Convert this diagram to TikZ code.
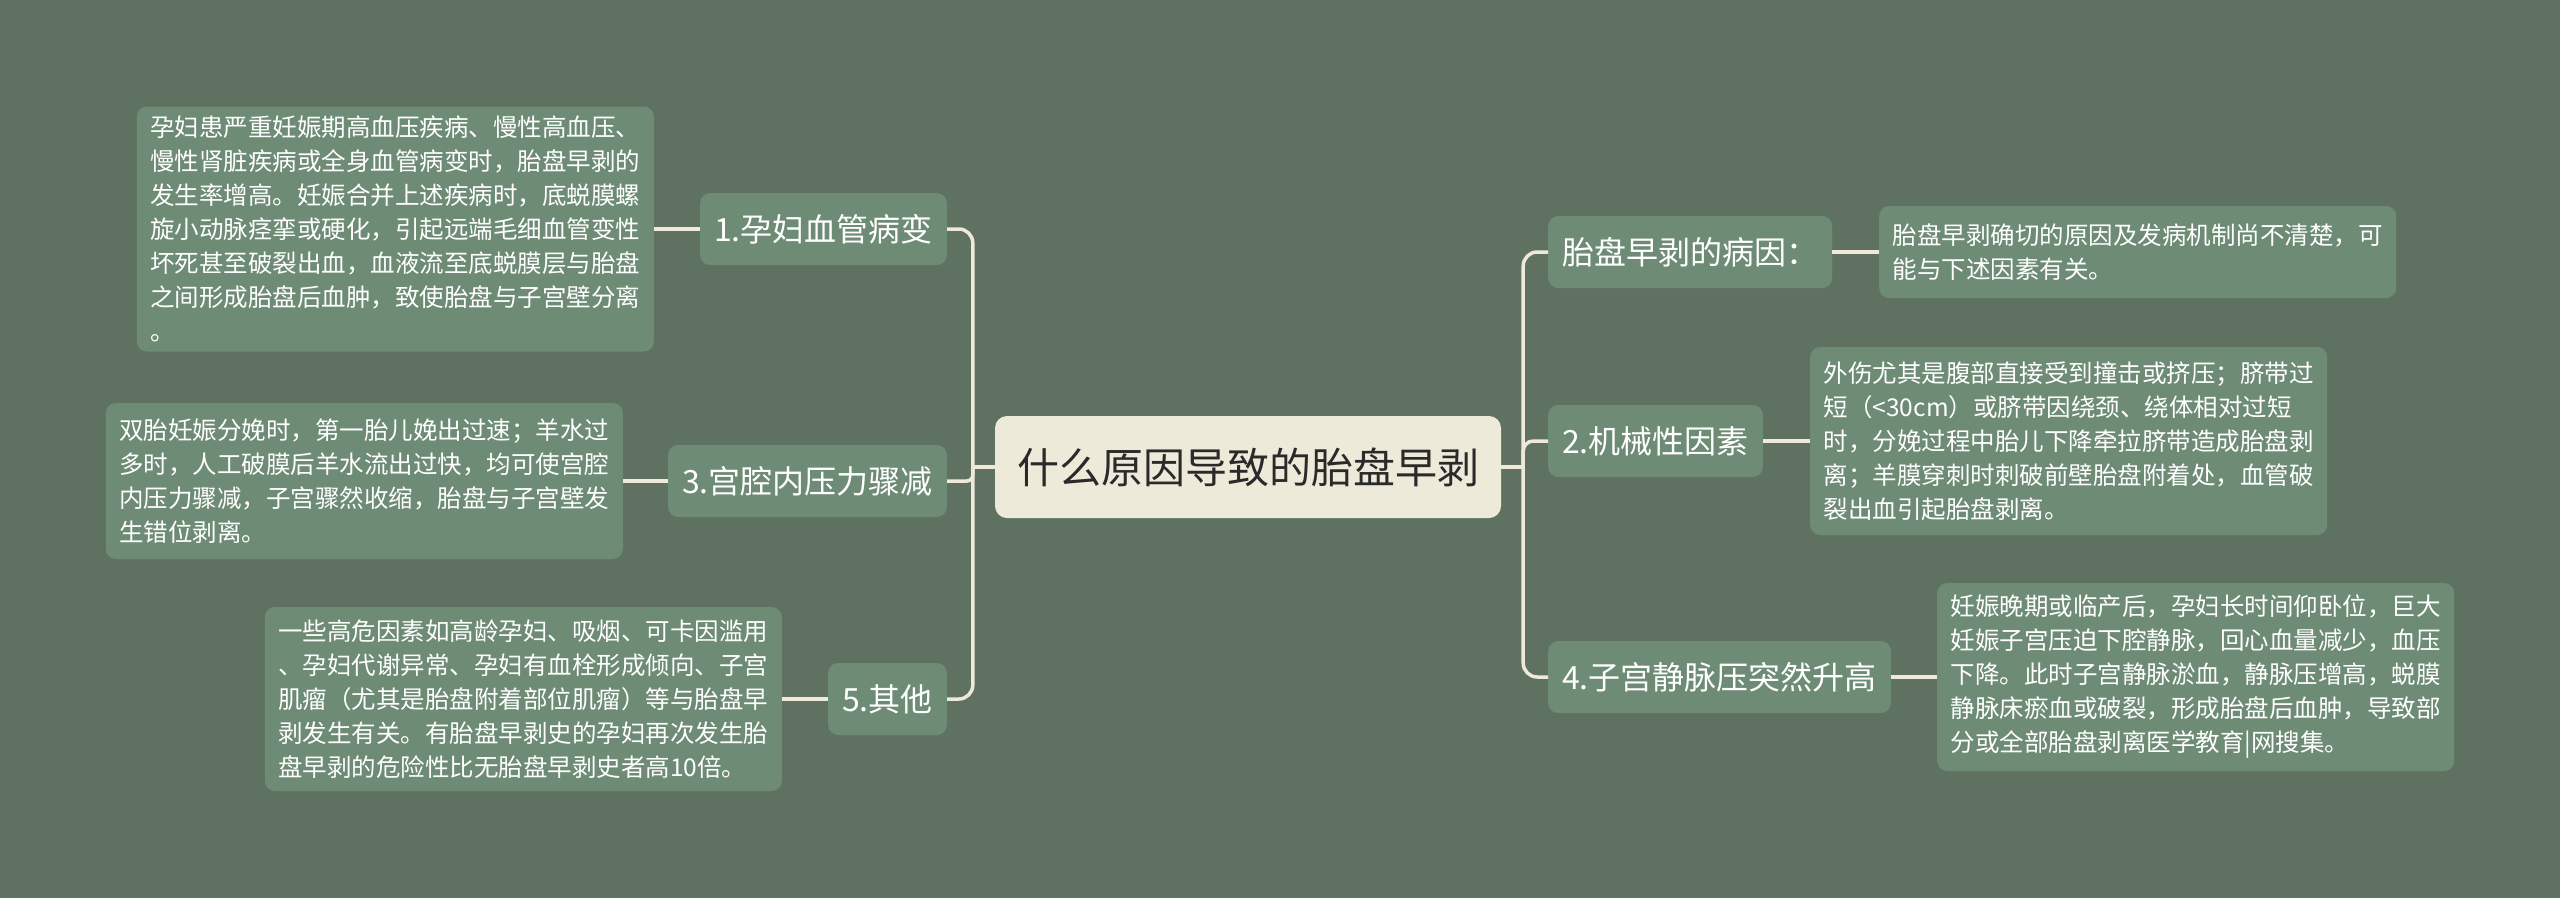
\documentclass[tikz,border=0pt]{standalone}
\usepackage{fontspec}
\setmainfont{Noto Sans CJK SC}
\usetikzlibrary{calc}
\definecolor{bg}{HTML}{5F7262}
\definecolor{boxfill}{HTML}{6E8B75}
\definecolor{rootfill}{HTML}{EEEAD9}
\definecolor{linecol}{HTML}{EEE9D8}
\definecolor{roottext}{HTML}{2A2A2A}
\tikzset{
  detail/.style={fill=boxfill, rounded corners=10pt, text=white, font=\fontsize{24.5}{34}\selectfont, align=left, text width=490pt, inner xsep=13.5pt, inner ysep=0pt},
  branch/.style={fill=boxfill, rounded corners=10pt, text=white, font=\fontsize{32}{38}\selectfont, inner xsep=14pt, inner ysep=0pt, minimum height=72pt},
  rootbox/.style={fill=rootfill, rounded corners=12pt, text=roottext, font=\fontsize{42}{50}\selectfont, minimum width=506pt, minimum height=102pt},
  conn/.style={draw=linecol, line width=3.5pt, rounded corners=14pt},
}
\begin{document}
\begin{tikzpicture}[x=1pt,y=-1pt]
\useasboundingbox (0,0) rectangle (2560,898);
\fill[bg] (0,0) rectangle (2560,898);

\node[rootbox] (root) at (1248,467) {什么原因导致的胎盘早剥};

% left branches
\node[branch, anchor=east] (b1) at (947,229) {1.孕妇血管病变};
\node[branch, anchor=east] (b3) at (947,481) {3.宫腔内压力骤减};
\node[branch, anchor=east] (b5) at (947,699) {5.其他};

% right branches
\node[branch, anchor=west] (rb1) at (1548,252) {胎盘早剥的病因：};
\node[branch, anchor=west] (rb2) at (1548,441) {2.机械性因素};
\node[branch, anchor=west] (rb4) at (1548,677) {4.子宫静脉压突然升高};

% left details
\node[detail, anchor=east, minimum height=245pt] (d1) at (654,229) {孕妇患严重妊娠期高血压疾病、慢性高血压、\\慢性肾脏疾病或全身血管病变时，胎盘早剥的\\发生率增高。妊娠合并上述疾病时，底蜕膜螺\\旋小动脉痉挛或硬化，引起远端毛细血管变性\\坏死甚至破裂出血，血液流至底蜕膜层与胎盘\\之间形成胎盘后血肿，致使胎盘与子宫壁分离\\。};
\node[detail, anchor=east, minimum height=156pt] (d3) at (623,481) {双胎妊娠分娩时，第一胎儿娩出过速；羊水过\\多时，人工破膜后羊水流出过快，均可使宫腔\\内压力骤减，子宫骤然收缩，胎盘与子宫壁发\\生错位剥离。};
\node[detail, anchor=east, minimum height=184pt] (d5) at (782,699) {一些高危因素如高龄孕妇、吸烟、可卡因滥用\\、孕妇代谢异常、孕妇有血栓形成倾向、子宫\\肌瘤（尤其是胎盘附着部位肌瘤）等与胎盘早\\剥发生有关。有胎盘早剥史的孕妇再次发生胎\\盘早剥的危险性比无胎盘早剥史者高10倍。};

% right details
\node[detail, anchor=west, minimum height=92pt] (rd1) at (1879,252) {胎盘早剥确切的原因及发病机制尚不清楚，可\\能与下述因素有关。};
\node[detail, anchor=west, minimum height=188pt] (rd2) at (1810,441) {外伤尤其是腹部直接受到撞击或挤压；脐带过\\短（<30cm）或脐带因绕颈、绕体相对过短\\时，分娩过程中胎儿下降牵拉脐带造成胎盘剥\\离；羊膜穿刺时刺破前壁胎盘附着处，血管破\\裂出血引起胎盘剥离。};
\node[detail, anchor=west, minimum height=188pt] (rd4) at (1937,677) {妊娠晚期或临产后，孕妇长时间仰卧位，巨大\\妊娠子宫压迫下腔静脉，回心血量减少，血压\\下降。此时子宫静脉淤血，静脉压增高，蜕膜\\静脉床瘀血或破裂，形成胎盘后血肿，导致部\\分或全部胎盘剥离医学教育|网搜集。};

% junctions
\coordinate (jl) at ($(root.west)+(-22,0)$);
\coordinate (jr) at ($(root.east)+(22,0)$);

% left connectors
\draw[conn] (root.west) -- (jl);
\draw[conn] (b1.east) -| (jl) |- (b5.east);
\draw[conn, rounded corners=6pt] (jl) |- (b3.east);
% right connectors
\draw[conn] (root.east) -- (jr);
\draw[conn] (rb1.west) -| (jr) |- (rb4.west);
\draw[conn, rounded corners=10pt] (jr) |- (rb2.west);

% detail connectors
\draw[conn] (b1.west) -- (d1.east);
\draw[conn] (b3.west) -- (d3.east);
\draw[conn] (b5.west) -- (d5.east);
\draw[conn] (rb1.east) -- (rd1.west);
\draw[conn] (rb2.east) -- (rd2.west);
\draw[conn] (rb4.east) -- (rd4.west);
\end{tikzpicture}
\end{document}
